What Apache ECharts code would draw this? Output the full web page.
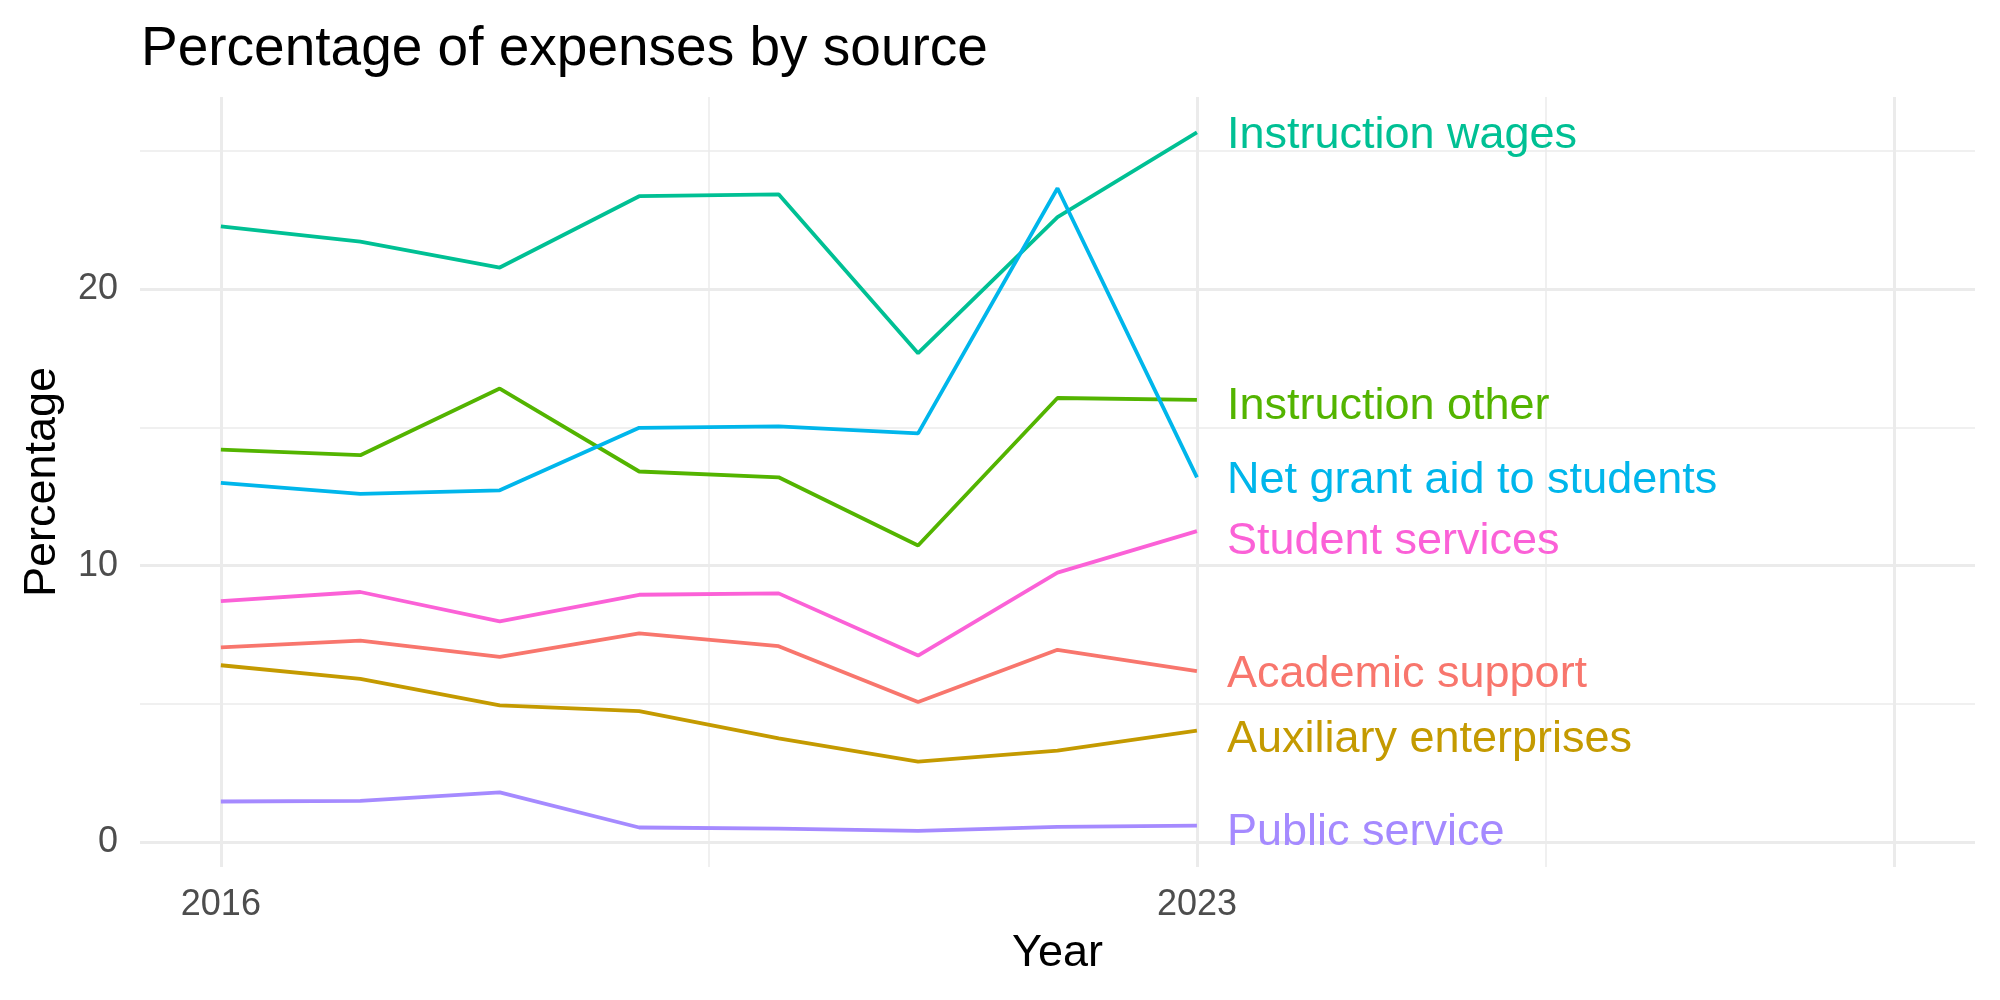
<!DOCTYPE html>
<html>
<head>
<meta charset="utf-8">
<script src="https://cdn.jsdelivr.net/npm/echarts@6/dist/echarts.min.js"></script>
<style>
  html, body { margin: 0; padding: 0; background: #ffffff; }
  #chart { width: 2000px; height: 1000px; }
</style>
</head>
<body>
<div id="chart"></div>
<script>
// data
const years = [2016, 2017, 2018, 2019, 2020, 2021, 2022, 2023];
const academicSupport = [7.05, 7.29, 6.70, 7.55, 7.09, 5.07, 6.96, 6.19];
const auxiliaryEnterprises = [6.40, 5.91, 4.95, 4.74, 3.75, 2.91, 3.31, 4.03];
const instructionOther = [14.2, 14.0, 16.41, 13.41, 13.2, 10.73, 16.07, 16.0];
const instructionWages = [22.28, 21.73, 20.79, 23.37, 23.44, 17.69, 22.61, 25.68];
const netGrantAid = [13.0, 12.6, 12.73, 14.99, 15.04, 14.79, 23.66, 13.2];
const publicService = [1.47, 1.49, 1.80, 0.53, 0.49, 0.41, 0.55, 0.60];
const studentServices = [8.72, 9.05, 7.99, 8.95, 9.0, 6.75, 9.75, 11.25];

const xLabels = [2016, 2023];
const xMajor = [2016, 2023, 2028];
const xMinor = [2019.5, 2025.5];
const yLabels = [0, 10, 20];
const yMinor = [5, 15, 25];

const FONT = "'Liberation Sans', Arial, sans-serif";
const GRID = "#EBEBEB";

const seriesDefs = [
  { name: "Academic support", data: academicSupport, color: "#F8766D", dy: 4 },
  { name: "Auxiliary enterprises", data: auxiliaryEnterprises, color: "#C49A00", dy: 9 },
  { name: "Instruction other", data: instructionOther, color: "#53B400", dy: 7 },
  { name: "Instruction wages", data: instructionWages, color: "#00C094", dy: 3 },
  { name: "Net grant aid to students", data: netGrantAid, color: "#00B6EB", dy: 3 },
  { name: "Public service", data: publicService, color: "#A58AFF", dy: 7 },
  { name: "Student services", data: studentServices, color: "#FB61D7", dy: 10 }
];

const gridLines = [];
xMajor.forEach(v => gridLines.push({ xAxis: v, lineStyle: { color: GRID, width: 3, type: "solid" } }));
xMinor.forEach(v => gridLines.push({ xAxis: v, lineStyle: { color: GRID, width: 1.5, type: "solid" } }));
yLabels.forEach(v => gridLines.push({ yAxis: v, lineStyle: { color: GRID, width: 3, type: "solid" } }));
yMinor.forEach(v => gridLines.push({ yAxis: v, lineStyle: { color: GRID, width: 1.5, type: "solid" } }));

const series = [
  {
    name: "grid",
    type: "line",
    data: [],
    silent: true,
    z: 0,
    markLine: {
      silent: true,
      symbol: "none",
      animation: false,
      z: 0,
      label: { show: false },
      emphasis: { disabled: true },
      data: gridLines
    }
  }
];

seriesDefs.forEach(s => {
  series.push({
    name: s.name,
    type: "line",
    z: 3,
    showSymbol: false,
    data: years.map((y, i) => [y, s.data[i]]),
    lineStyle: { color: s.color, width: 3.8 },
    itemStyle: { color: s.color },
    emphasis: { disabled: true },
    endLabel: {
      show: true,
      formatter: s.name,
      color: s.color,
      fontSize: 45,
      fontFamily: FONT,
      distance: 30,
      offset: [0, s.dy]
    }
  });
});

const myChart = echarts.init(document.getElementById("chart"));
const option = {
  animation: false,
  backgroundColor: "#ffffff",
  title: {
    text: "Percentage of expenses by source",
    left: 136,
    top: 17,
    textStyle: { fontSize: 55, fontWeight: "normal", color: "#000000", fontFamily: FONT }
  },
  grid: { left: 140, right: 25, top: 97, bottom: 133, outerBoundsMode: "none", containLabel: false },
  xAxis: {
    type: "value",
    min: 2015.42,
    max: 2028.58,
    name: "Year",
    nameLocation: "middle",
    nameGap: 64,
    nameTextStyle: { fontSize: 45, color: "#000000", fontFamily: FONT },
    axisLine: { show: false, onZero: false },
    axisTick: { show: false },
    splitLine: { show: false },
    axisLabel: {
      customValues: xLabels,
      fontSize: 36,
      color: "#4D4D4D",
      fontFamily: FONT,
      margin: 20,
      formatter: v => String(v)
    }
  },
  yAxis: {
    type: "value",
    min: -0.9,
    max: 26.96,
    name: "Percentage",
    nameLocation: "middle",
    nameGap: 75,
    nameRotate: 90,
    nameTextStyle: { fontSize: 45, color: "#000000", fontFamily: FONT },
    axisLine: { show: false, onZero: false },
    axisTick: { show: false },
    splitLine: { show: false },
    axisLabel: {
      customValues: yLabels,
      fontSize: 36,
      color: "#4D4D4D",
      fontFamily: FONT,
      margin: 22
    }
  },
  series: series
};
myChart.setOption(option);
</script>
</body>
</html>
